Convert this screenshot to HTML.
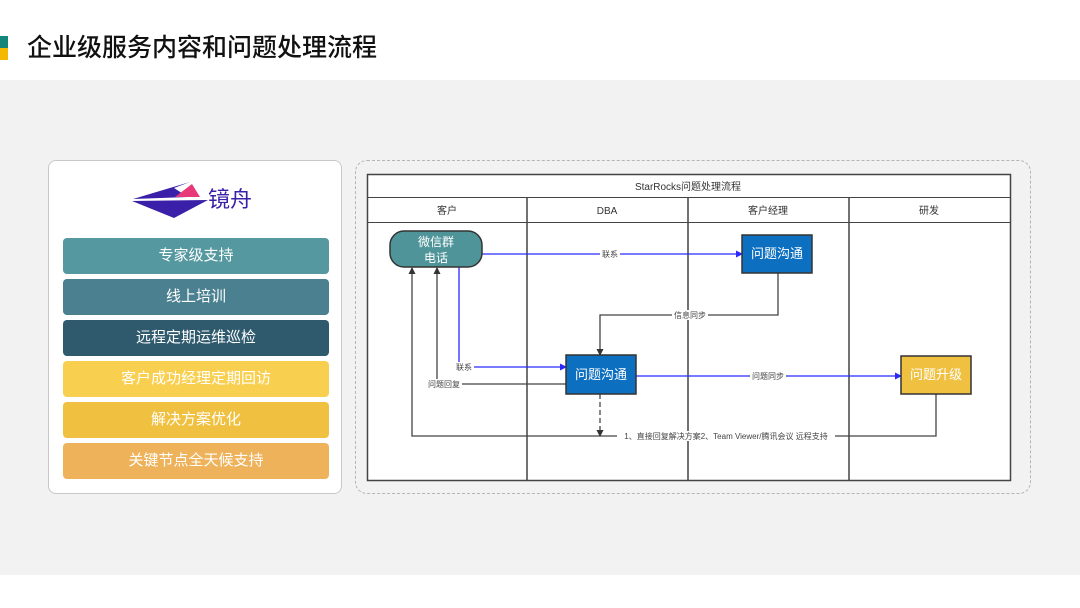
<!DOCTYPE html>
<html><head><meta charset="utf-8"><style>
body{margin:0;width:1080px;height:608px;background:#fff;font-family:"Liberation Sans","Noto Sans CJK SC",sans-serif;position:relative;overflow:hidden}
.band{position:absolute;left:0;top:80px;width:1080px;height:495px;background:#f2f2f2}
.title{position:absolute;left:27px;top:28px;font-size:25px;color:#111;font-weight:500}
.card{position:absolute;left:48px;top:160px;width:292px;height:332px;background:#fff;border:1px solid #c8c8c8;border-radius:8px}
.btn{position:absolute;left:63px;width:266px;height:36px;border-radius:4px;color:#fff;font-size:15px;text-align:center;line-height:36px}
.dash{position:absolute;left:355px;top:160px;width:674px;height:332px;border:1.5px dashed #b5b5b5;border-radius:12px}
</style></head><body>
<div style="position:absolute;left:0;top:36px;width:8px;height:12px;background:#14857a"></div>
<div style="position:absolute;left:0;top:48px;width:8px;height:12px;background:#f5b800"></div>
<div class="title">企业级服务内容和问题处理流程</div>
<div class="band"></div>
<div class="card"></div>
<svg style="position:absolute;left:130px;top:180px" width="140" height="42">
<polygon points="3,19 58,17 44,8 60,2" fill="#3a1fa8"/>
<polygon points="2,21 78,20 44,38" fill="#3a1fa8"/>
<polygon points="45,17 62,4 70,17" fill="#e8387a"/>
<text x="78" y="27" font-size="22" fill="#3a1fa8" font-family="Noto Sans CJK SC">镜舟</text>
</svg>
<div class="btn" style="top:238px;background:#5598a0">专家级支持</div>
<div class="btn" style="top:279px;background:#4a8090">线上培训</div>
<div class="btn" style="top:320px;background:#2f5a6e">远程定期运维巡检</div>
<div class="btn" style="top:361px;background:#f9cf4f">客户成功经理定期回访</div>
<div class="btn" style="top:402px;background:#f0c040">解决方案优化</div>
<div class="btn" style="top:443px;background:#eeb35a">关键节点全天候支持</div>
<div class="dash"></div>
<svg style="position:absolute;left:0;top:0" width="1080" height="608" font-family="Liberation Sans,Noto Sans CJK SC,sans-serif">
<defs>
<marker id="ab" markerUnits="userSpaceOnUse" markerWidth="7" markerHeight="7" refX="6" refY="3.5" orient="auto"><path d="M0,0 L7,3.5 L0,7z" fill="#2a2aff"/></marker>
<marker id="ak" markerUnits="userSpaceOnUse" markerWidth="7" markerHeight="7" refX="6" refY="3.5" orient="auto"><path d="M0,0 L7,3.5 L0,7z" fill="#333"/></marker>
</defs>
<rect x="367.5" y="174.5" width="643" height="306" fill="#fff" stroke="#444" stroke-width="1.5"/>
<line x1="367" y1="197.5" x2="1010" y2="197.5" stroke="#444"/>
<line x1="367" y1="222.5" x2="1010" y2="222.5" stroke="#444"/>
<g stroke="#444" stroke-width="1.5"><line x1="527" y1="197" x2="527" y2="481"/><line x1="688" y1="197" x2="688" y2="481"/><line x1="849" y1="197" x2="849" y2="481"/></g>
<g font-size="10" fill="#333" text-anchor="middle">
<text x="688" y="190">StarRocks问题处理流程</text>
<text x="447" y="214">客户</text><text x="607" y="214">DBA</text><text x="768" y="214">客户经理</text><text x="929" y="214">研发</text>
</g>
<g fill="none" stroke-width="1.3">
<path d="M482,254 H742" stroke="#2a2aff" marker-end="url(#ab)"/>
<path d="M459,267 V367 H566" stroke="#2a2aff" marker-end="url(#ab)"/>
<path d="M636,376 H901" stroke="#2a2aff" marker-end="url(#ab)"/>
<path d="M778,273 V315 H600 V355" stroke="#444" marker-end="url(#ak)"/>
<path d="M566,384 H437 V268" stroke="#444" marker-end="url(#ak)"/>
<path d="M600,394 V436" stroke="#444" stroke-dasharray="5,3" marker-end="url(#ak)"/>
<path d="M936,394 V436 H412 V268" stroke="#444" marker-end="url(#ak)"/>
</g>
<g font-size="8" fill="#444" text-anchor="middle">
<rect x="600" y="249" width="20" height="10" fill="#fff"/><text x="610" y="257">联系</text>
<rect x="672" y="310" width="36" height="10" fill="#fff"/><text x="690" y="318">信息同步</text>
<rect x="454" y="362" width="20" height="10" fill="#fff"/><text x="464" y="370">联系</text>
<rect x="426" y="379" width="36" height="10" fill="#fff"/><text x="444" y="387">问题回复</text>
<rect x="750" y="371" width="36" height="10" fill="#fff"/><text x="768" y="379">问题同步</text>
<rect x="617" y="431" width="218" height="10" fill="#fff"/><text x="726" y="439">1、直接回复解决方案2、Team Viewer/腾讯会议 远程支持</text>
</g>
<rect x="390" y="231" width="92" height="36" rx="14" fill="#4f9499" stroke="#333" stroke-width="1.5"/>
<text x="436" y="246" font-size="12" fill="#fff" text-anchor="middle">微信群</text>
<text x="436" y="262" font-size="12" fill="#fff" text-anchor="middle">电话</text>
<rect x="566" y="355" width="70" height="39" fill="#0c6fc0" stroke="#333" stroke-width="1.5"/>
<text x="601" y="379" font-size="13" fill="#fff" text-anchor="middle">问题沟通</text>
<rect x="742" y="235" width="70" height="38" fill="#0c6fc0" stroke="#333" stroke-width="1.5"/>
<text x="777" y="258" font-size="13" fill="#fff" text-anchor="middle">问题沟通</text>
<rect x="901" y="356" width="70" height="38" fill="#f0c040" stroke="#333" stroke-width="1.5"/>
<text x="936" y="379" font-size="13" fill="#fff" text-anchor="middle">问题升级</text>
</svg>
</body></html>
